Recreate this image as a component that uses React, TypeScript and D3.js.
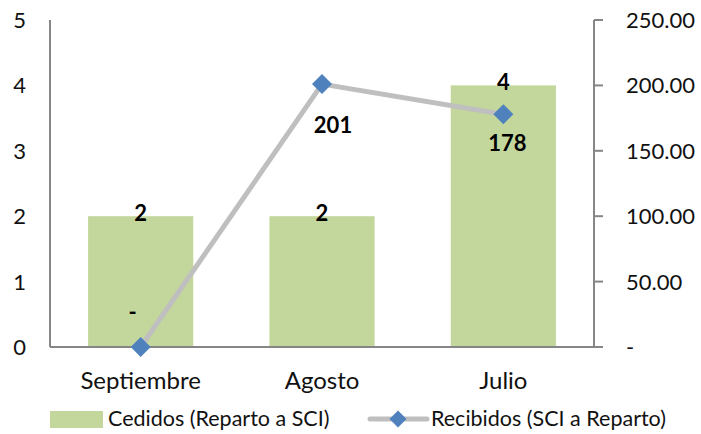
import React from "react";
import * as d3 from "d3";

const categories = ["Septiembre", "Agosto", "Julio"];
const cedidos = [2, 2, 4];
const recibidos = [0, 201, 178];
const recibidosLabels = ["-", "201", "178"];
const leftTicks = [0, 1, 2, 3, 4, 5];
const rightTicks = [0, 50, 100, 150, 200, 250];
const rightTickLabels = ["-", "50.00", "100.00", "150.00", "200.00", "250.00"];
const seriesNames = ["Cedidos (Reparto a SCI)", "Recibidos (SCI a Reparto)"];

// label placement offsets (style only)
const lineLabelOffsets = [
  [-8, -35],
  [11, 41],
  [4, 29],
];

const W = 701;
const H = 434;
const left = 50;
const right = 594;
const top = 20;
const bottom = 347;
const FONT = "Lato, 'Open Sans', sans-serif";
const AXIS = "#868686";
const TXT = "#111";

export default function App() {
  const x = d3.scaleBand<string>().domain(categories).range([left, right]).paddingInner(0.42).paddingOuter(0.21);
  const xc = (c: string) => (x(c) as number) + x.bandwidth() / 2;
  const yL = d3.scaleLinear().domain([0, 5]).range([bottom, top]);
  const yR = d3.scaleLinear().domain([0, 250]).range([bottom, top]);
  const line = d3
    .line<number>()
    .x((_, i) => xc(categories[i]))
    .y((d) => yR(d));
  const diamond = (cx: number, cy: number, r: number) =>
    `M${cx},${cy - r}L${cx + r},${cy}L${cx},${cy + r}L${cx - r},${cy}Z`;

  return (
    <svg width={W} height={H} style={{ position: "absolute", left: 0, top: 0, background: "#fff" }} fontFamily={FONT}>
      {cedidos.map((v, i) => (
        <rect key={i} x={x(categories[i])} y={yL(v)} width={x.bandwidth()} height={yL(0) - yL(v)} fill="#C3D69B" />
      ))}
      {/* axes */}
      <line x1={left} x2={left} y1={top} y2={bottom} stroke={AXIS} strokeWidth={2} />
      <line x1={left} x2={right} y1={bottom} y2={bottom} stroke={AXIS} strokeWidth={2} />
      <line x1={right} x2={right} y1={top} y2={bottom} stroke={AXIS} strokeWidth={2} />
      {rightTicks.map((t, i) => (
        <line key={i} x1={right} x2={right + 9} y1={yR(t)} y2={yR(t)} stroke={AXIS} strokeWidth={2} />
      ))}
      {leftTicks.map((t) => (
        <text key={t} x={26} y={yL(t)} dy="0.36em" textAnchor="end" fontSize={22} fill={TXT}>
          {t}
        </text>
      ))}
      {rightTicks.map((t, i) => (
        <text key={t} x={626} y={yR(t)} dy="0.36em" textAnchor="start" fontSize={22} fill={TXT}>
          {rightTickLabels[i]}
        </text>
      ))}
      {categories.map((c) => (
        <text key={c} x={xc(c)} y={389} textAnchor="middle" fontSize={24} fill={TXT}>
          {c}
        </text>
      ))}
      {/* bar labels */}
      {cedidos.map((v, i) => (
        <text key={i} x={xc(categories[i])} y={yL(v) + 5} textAnchor="middle" fontSize={22} fontWeight="bold" fill="#000">
          {v}
        </text>
      ))}
      {/* line */}
      <path d={line(recibidos) || ""} fill="none" stroke="#BFBFBF" strokeWidth={5} strokeLinejoin="round" />
      {recibidos.map((v, i) => (
        <path key={i} d={diamond(xc(categories[i]), yR(v), 10)} fill="#4F81BD" />
      ))}
      {recibidos.map((v, i) => (
        <text
          key={i}
          x={xc(categories[i]) + lineLabelOffsets[i][0]}
          y={yR(v) + lineLabelOffsets[i][1]}
          dy="0.36em"
          textAnchor="middle"
          fontSize={22}
          fontWeight="bold"
          fill="#000"
        >
          {recibidosLabels[i]}
        </text>
      ))}
      {/* legend */}
      <rect x={50} y={411} width={53} height={17} fill="#C3D69B" />
      <text x={108} y={426} fontSize={21.5} fill={TXT}>
        {seriesNames[0]}
      </text>
      <line x1={370} x2={427} y1={419} y2={419} stroke="#BFBFBF" strokeWidth={5} strokeLinecap="round" />
      <path d={diamond(398, 419, 8.5)} fill="#4F81BD" />
      <text x={431} y={426} fontSize={21.5} fill={TXT}>
        {seriesNames[1]}
      </text>
    </svg>
  );
}
